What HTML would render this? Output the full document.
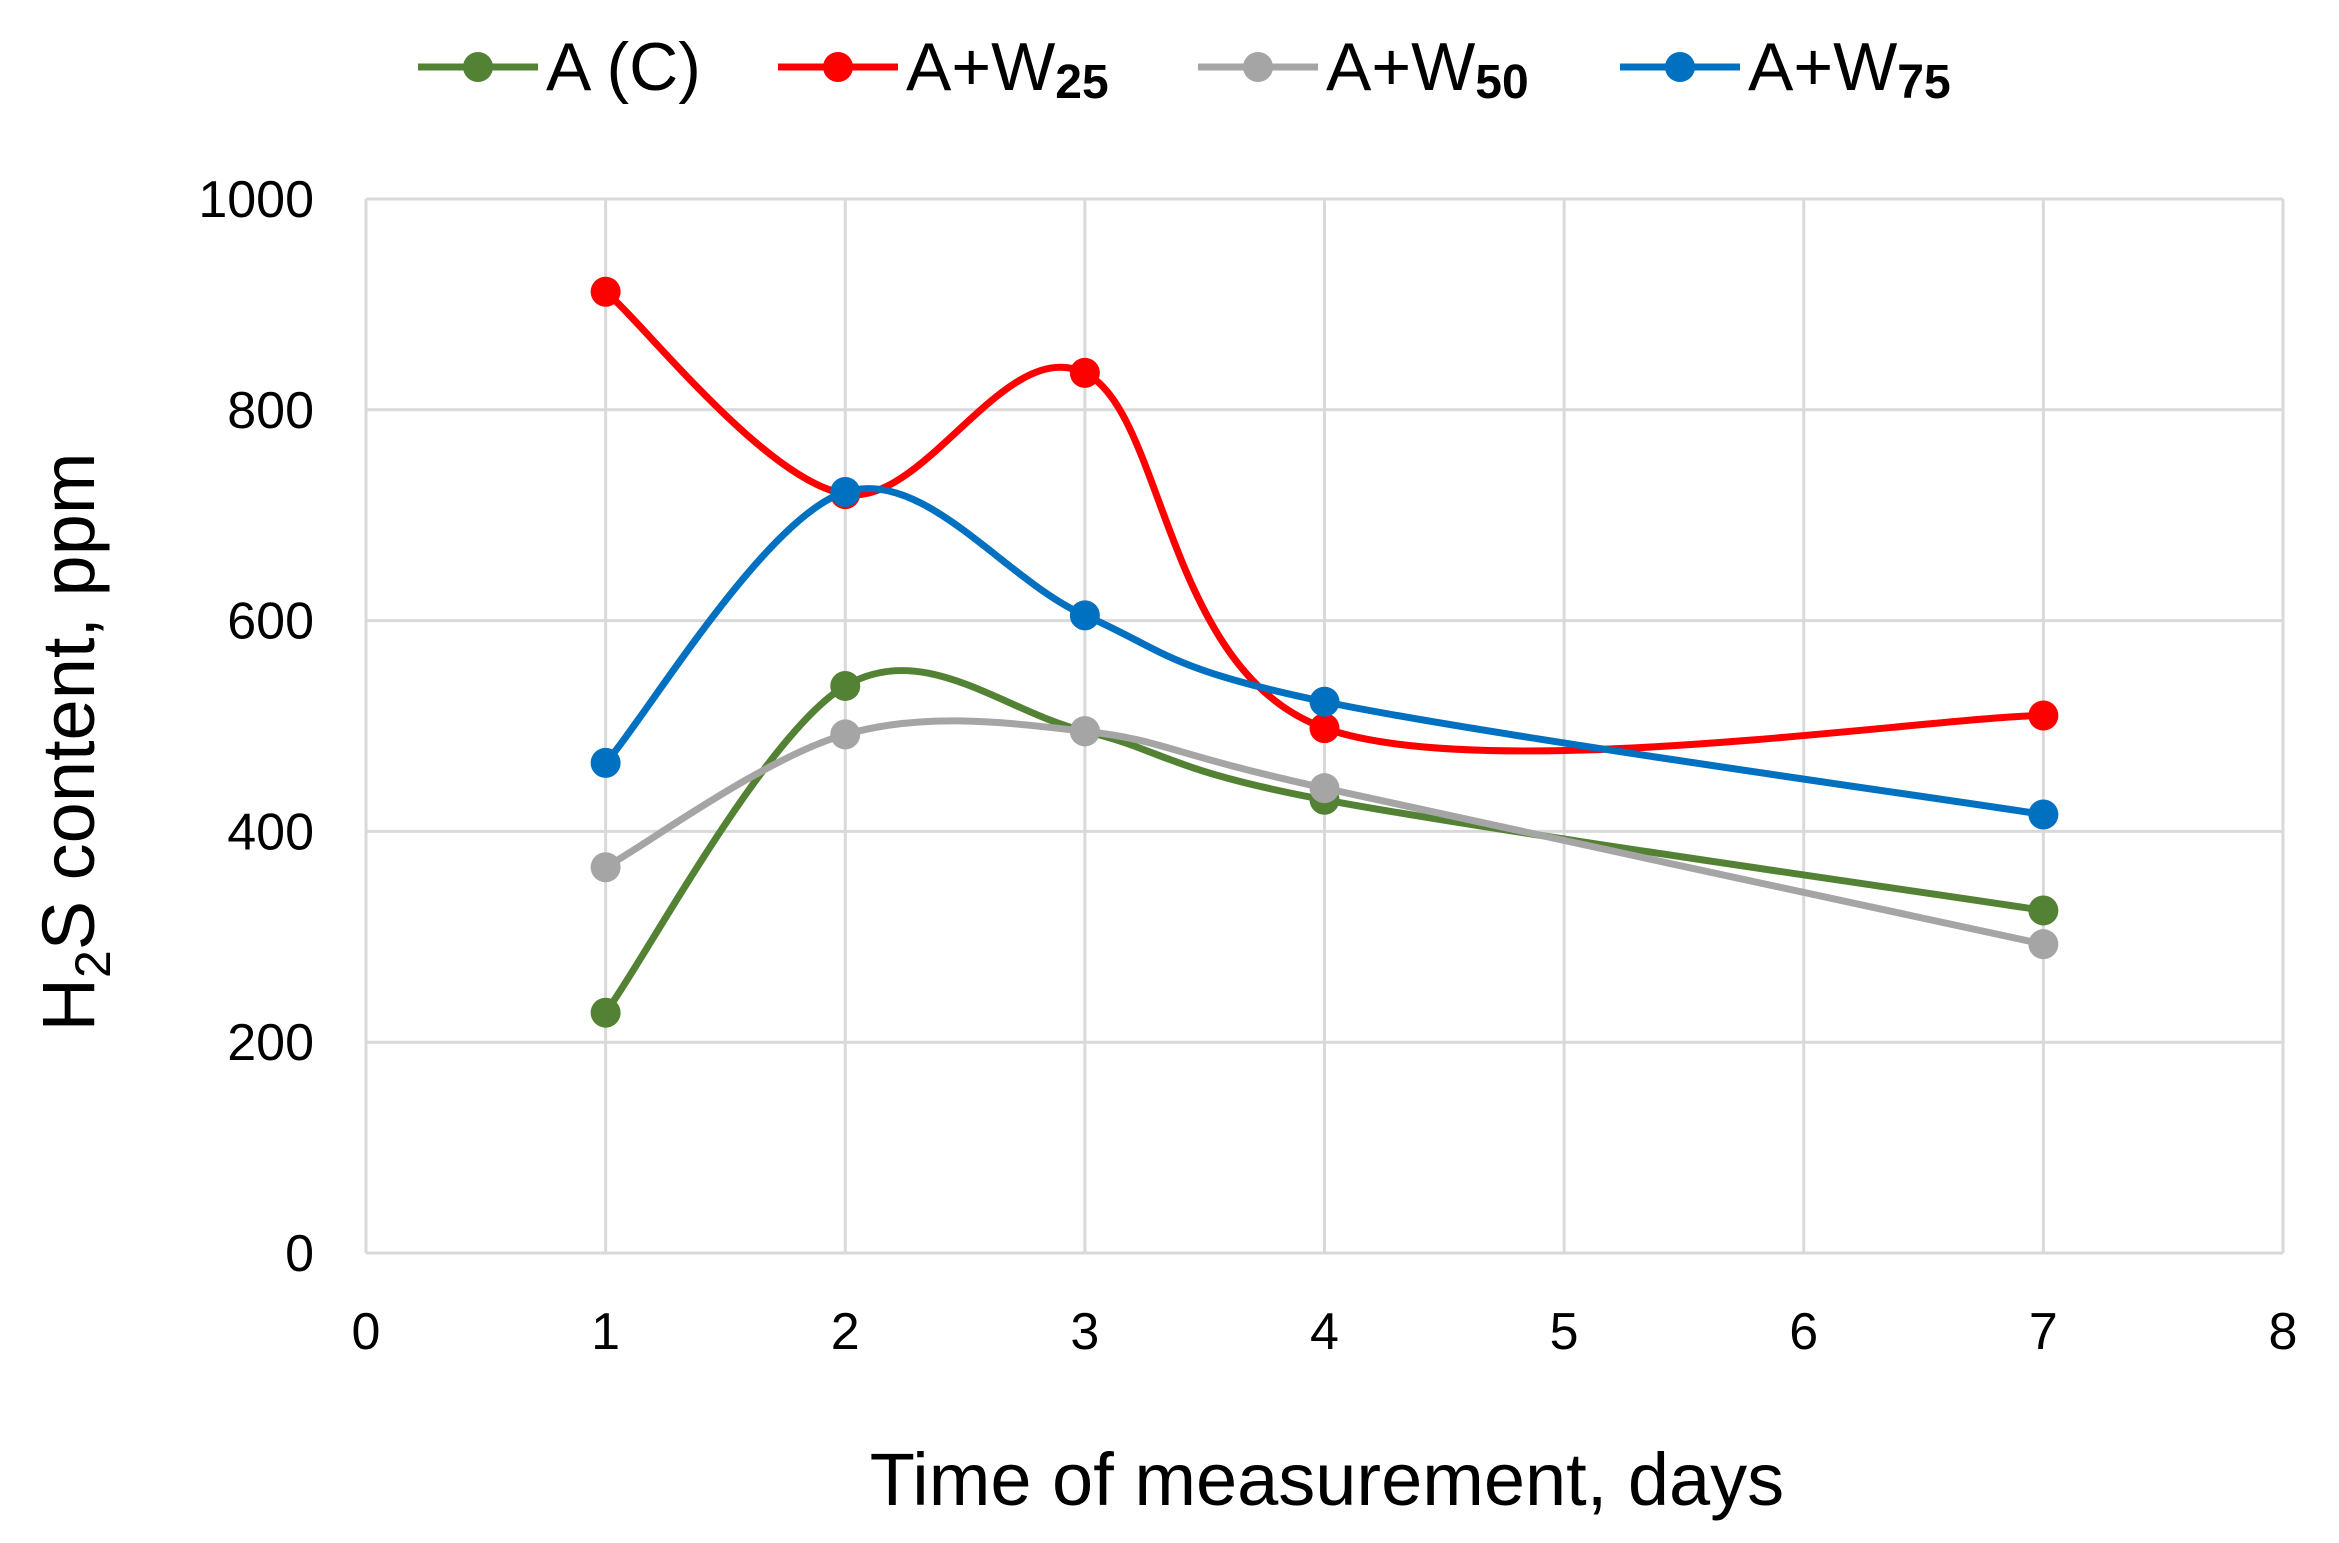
<!DOCTYPE html>
<html><head><meta charset="utf-8"><style>
html,body{margin:0;padding:0;background:#fff;}
svg{display:block;font-family:"Liberation Sans","DejaVu Sans",sans-serif;}
</style></head><body>
<svg id="chart" width="2339" height="1543" viewBox="0 0 2339 1543" xmlns="http://www.w3.org/2000/svg">
<g id="grid"></g>
<g id="axes"></g>
<g id="series"></g>
<g id="legend"></g>
<text transform="translate(94,742) rotate(-90)" text-anchor="middle" font-size="74" fill="#000">H<tspan font-size="50" dy="16">2</tspan><tspan dy="-16">S content, ppm</tspan></text>
<text x="1327" y="1505" text-anchor="middle" font-size="74" fill="#000">Time of measurement, days</text>
</svg>
<script>
const xDays = [1, 2, 3, 4, 7];
const seriesNames = ["A (C)", "A+W25", "A+W50", "A+W75"];
const valuesAC = [228, 538, 495, 430, 325];
const valuesW25 = [912, 720, 835, 498, 510];
const valuesW50 = [366, 492, 495, 441, 293];
const valuesW75 = [465, 722, 605, 523, 416];
const xTicks = [0, 1, 2, 3, 4, 5, 6, 7, 8];
const yTicks = [0, 200, 400, 600, 800, 1000];

const NS = "http://www.w3.org/2000/svg";
const L = 366, R = 2283, T = 199, B = 1253;
const xMin = 0, xMax = 8, yMin = 0, yMax = 1000;
function sx(v){ return L + (v - xMin) / (xMax - xMin) * (R - L); }
function sy(v){ return B - (v - yMin) / (yMax - yMin) * (B - T); }
function mk(tag, attrs, parent){ const e = document.createElementNS(NS, tag); for (const k in attrs) e.setAttribute(k, attrs[k]); parent.appendChild(e); return e; }

const grid = document.getElementById('grid');
const axes = document.getElementById('axes');
xTicks.forEach(t => {
  const l = mk('line', {x1: sx(t), x2: sx(t), y1: T, y2: B, stroke: '#d9d9d9', 'stroke-width': 3}, grid);
  
  
  const tx = mk('text', {x: sx(t), y: 1349, 'text-anchor': 'middle', 'font-size': 52, fill: '#000'}, axes);
  tx.textContent = t;
  
  
});
yTicks.forEach(t => {
  const l = mk('line', {x1: L, x2: R, y1: sy(t), y2: sy(t), stroke: '#d9d9d9', 'stroke-width': 3}, grid);
  
  
  const tx = mk('text', {x: 314, y: sy(t) + 18, 'text-anchor': 'end', 'font-size': 52, fill: '#000'}, axes);
  tx.textContent = t;
  
  
});

function smoothPath(pts){
  let d = `M${pts[0][0]},${pts[0][1]}`;
  for (let i = 0; i < pts.length - 1; i++){
    const p0 = pts[i-1] || pts[i], p1 = pts[i], p2 = pts[i+1], p3 = pts[i+2] || pts[i+1];
    const c1 = [p1[0] + (p2[0]-p0[0])/6, p1[1] + (p2[1]-p0[1])/6];
    const c2 = [p2[0] - (p3[0]-p1[0])/6, p2[1] - (p3[1]-p1[1])/6];
    d += ` C${c1[0]},${c1[1]} ${c2[0]},${c2[1]} ${p2[0]},${p2[1]}`;
  }
  return d;
}
const colors = ['#548235', '#ff0000', '#a5a5a5', '#0070c0'];
const allVals = [valuesAC, valuesW25, valuesW50, valuesW75];
const sg = document.getElementById('series');
allVals.forEach((vals, si) => {
  const g = mk('g', {}, sg);
  
  
  const pts = vals.map((v, i) => [sx(xDays[i]), sy(v)]);
  const p = mk('path', {d: smoothPath(pts), fill: 'none', stroke: colors[si], 'stroke-width': 7}, g);
  
  
  pts.forEach(pt => {
    const c = mk('circle', {cx: pt[0], cy: pt[1], r: 15, fill: colors[si]}, g);
    
    
  });
});

const lg = document.getElementById('legend');
const legX = [418, 778, 1198, 1620];
const subs = ["", "25", "50", "75"];
seriesNames.forEach((n, i) => {
  const g = mk('g', {}, lg);
  
  
  mk('line', {x1: legX[i], x2: legX[i] + 120, y1: 67, y2: 67, stroke: colors[i], 'stroke-width': 7}, g);
  mk('circle', {cx: legX[i] + 60, cy: 67, r: 15, fill: colors[i]}, g);
  const t = mk('text', {x: legX[i] + 128, y: 90, 'font-size': 68, fill: '#000'}, g);
  if (i === 0) t.textContent = n;
  else {
    t.textContent = 'A+W';
    const ts = mk('tspan', {'font-size': 48, dy: 8, 'font-weight': 'bold'}, t);
    ts.textContent = subs[i];
  }
});
</script>
</body></html>
